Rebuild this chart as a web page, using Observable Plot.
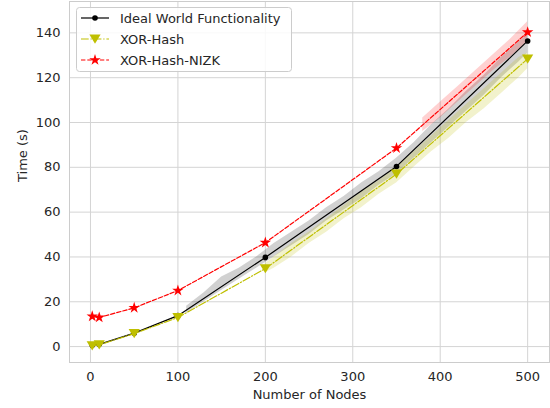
<!DOCTYPE html>
<html><head><meta charset="utf-8">
<script src="https://cdn.jsdelivr.net/npm/d3@7"></script>
<script src="https://cdn.jsdelivr.net/npm/@observablehq/plot@0.6"></script>
<style>
body{margin:0;background:#fff;}
#wrap{position:relative;width:550px;height:408px;font-family:"DejaVu Sans",sans-serif;}
</style></head>
<body><div id="wrap"></div>
<script>
const nodes = [2, 10, 50, 100, 200, 350, 500];
const ideal = [0.6, 1.0, 6.0, 13.8, 39.8, 80.4, 136.4];
const xorHash = [0.4, 0.8, 5.8, 13.0, 34.8, 77.0, 128.4];
const xorNizk = [13.5, 13.0, 17.3, 25.0, 46.4, 88.6, 140.3];

const grayX = [110,130,150,170,190,210,230,250,270,290,310,330,350,370,390,410,430,450,470,490,500];
const grayLo = [15,20,25,30,35,40,45,50,56,61,66,72,77,84,91,98,105,112,120,127,131];
const grayHi = [18,24,31,35,40,46,51,56,62,67,73,78,84,91,99,106,114,121,129,136,139];

const yelX = [200,210,230,250,270,290,310,330,350,370,390,410,430,450,470,490,500];
const yelLo = [33,35,40,46,51,57,62,68,73,80,87,93,100,106,113,120,124];
const yelHi = [37,40,46,51,57,63,69,74,80,87,94,101,108,115,122,129,131];

const redX = [380,400,420,440,460,480,500];
const redLo = [96,102,109,116,123,129,136];
const redHi = [102,109,116,123,130,137,145];

const xTicks = [0,100,200,300,400,500];
const yTicks = [0,20,40,60,80,100,120,140];

const C_BLACK = "#000000", C_YEL = "#bfbf00", C_RED = "#ff0000";

const series = [
  {name:"Ideal World Functionality", values: ideal, color: C_BLACK, dash: null, marker: "dot"},
  {name:"XOR-Hash", values: xorHash, color: C_YEL, dash: "7.7,1.9,1.2,1.9", marker: "tri"},
  {name:"XOR-Hash-NIZK", values: xorNizk, color: C_RED, dash: "4.4,1.9", marker: "star"}
];

const triDown = {draw(ctx, size){ const r = Math.sqrt(size/Math.PI);
  ctx.moveTo(0, r*0.85); ctx.lineTo(-r, -r*0.8); ctx.lineTo(r, -r*0.8); ctx.closePath(); }};

const band = (xs, lo, hi) => xs.map((x,i)=>({x, lo: lo[i], hi: hi[i]}));
const pts = s => nodes.map((n,i)=>({x:n, y:s.values[i]}));

const marks = [
  Plot.gridX(xTicks, {stroke:"#d4d4d4", strokeOpacity:1, strokeWidth:1}),
  Plot.gridY(yTicks, {stroke:"#d4d4d4", strokeOpacity:1, strokeWidth:1}),
  Plot.frame({stroke:"#cccccc", strokeWidth:1}),
  Plot.areaY(band(grayX, grayLo, grayHi), {x:"x", y1:"lo", y2:"hi", fill:C_BLACK, fillOpacity:0.18}),
  Plot.areaY(band(yelX, yelLo, yelHi), {x:"x", y1:"lo", y2:"hi", fill:C_YEL, fillOpacity:0.2}),
  Plot.areaY(band(redX, redLo, redHi), {x:"x", y1:"lo", y2:"hi", fill:C_RED, fillOpacity:0.18}),
];
for (const s of series) {
  marks.push(Plot.line(pts(s), {x:"x", y:"y", stroke:s.color, strokeWidth:1.2, strokeDasharray:s.dash}));
  if (s.marker === "dot") marks.push(Plot.dot(pts(s), {x:"x", y:"y", r:2.8, fill:s.color, stroke:"none"}));
  if (s.marker === "tri") marks.push(Plot.dot(pts(s), {x:"x", y:"y", r:5.6, symbol:triDown, fill:s.color, stroke:"none"}));
  if (s.marker === "star") marks.push(Plot.dot(pts(s), {x:"x", y:"y", r:3.6, symbol:"star", fill:s.color, stroke:"none"}));
}
marks.push(
  Plot.axisX(xTicks, {tickSize:0, tickPadding:9, fontSize:13, fill:"#262626", label:null}),
  Plot.axisY(yTicks, {tickSize:0, tickPadding:9, fontSize:13, fill:"#262626", label:null}),
  Plot.text(["Number of Nodes"], {frameAnchor:"bottom", dy:36, fontSize:13, fill:"#262626"}),
  Plot.text(["Time (s)"], {frameAnchor:"left", dx:-47, rotate:-90, fontSize:13, fill:"#262626"})
);

const chart = Plot.plot({
  width:550, height:408,
  marginLeft:69, marginRight:1, marginTop:1, marginBottom:46,
  style:{fontFamily:"DejaVu Sans, sans-serif", fontSize:"13px", background:"#fff", overflow:"visible"},
  x:{domain:[-24,525]},
  y:{domain:[-7.1,154]},
  marks
});
const wrap = document.getElementById("wrap");
wrap.appendChild(chart);

// legend
const lg = d3.select(wrap).append("svg")
  .attr("width", 218).attr("height", 68)
  .style("position","absolute").style("left","76px").style("top","7px");
lg.append("rect").attr("x",0.5).attr("y",0.5).attr("width",215).attr("height",64)
  .attr("rx",3).attr("fill","rgba(255,255,255,0.85)").attr("stroke","#cccccc");
series.forEach((s,i)=>{
  const cy = 11 + i*21;
  lg.append("line").attr("x1",5).attr("x2",33).attr("y1",cy).attr("y2",cy)
    .attr("stroke",s.color).attr("stroke-width",1.2).attr("stroke-dasharray", s.dash);
  if (s.marker==="dot") lg.append("circle").attr("cx",19).attr("cy",cy).attr("r",2.8).attr("fill",s.color);
  if (s.marker==="tri") lg.append("path").attr("transform",`translate(19,${cy})`)
    .attr("d", d3.symbol(triDown, Math.PI*5.6*5.6)()).attr("fill",s.color);
  if (s.marker==="star") lg.append("path").attr("transform",`translate(19,${cy})`)
    .attr("d", d3.symbol(d3.symbolStar, Math.PI*3.6*3.6)()).attr("fill",s.color);
  lg.append("text").attr("x",44).attr("y",cy).attr("dy","0.35em")
    .attr("font-size",13).attr("fill","#262626").attr("font-family","DejaVu Sans, sans-serif").text(s.name);
});
</script></body></html>
